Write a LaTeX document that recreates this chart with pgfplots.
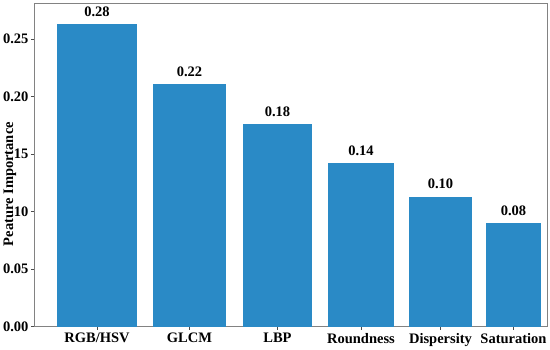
\documentclass[border=0pt]{standalone}
\usepackage{pgfplots}
\pgfplotsset{compat=1.18}
\usepackage{fontspec}
\setmainfont{Liberation Serif}
\definecolor{barblue}{RGB}{42,138,198}
\definecolor{framegray}{RGB}{130,130,130}
\begin{document}
\begin{tikzpicture}[x=1pt,y=1pt]
\useasboundingbox (-34,-22.5) rectangle (516,326.5);
\begin{axis}[
  at={(0,0)}, anchor=south west,
  scale only axis,
  width=513pt, height=323.5pt,
  xmin=34, xmax=547,
  ymin=0, ymax=0.2813,
  axis line style={framegray, line width=0.8pt},
  tick style={black!70, line width=0.6pt},
  tick align=outside,
  major tick length=3pt,
  xtick={97,189.5,277.5,361,440.5,513.5},
  xticklabels={RGB/HSV,GLCM,LBP,Roundness,Dispersity,Saturation},
  ytick={0,0.05,0.10,0.15,0.20,0.25},
  yticklabels={0.00,0.05,10,15,0.20,0.25},
  xtick pos=bottom, ytick pos=left,
  ticklabel style={font=\fontsize{14.5}{17}\selectfont\bfseries},
  yticklabel style={xshift=1pt},
  xticklabel style={yshift=0pt},
  ylabel={Peature Importance},
  every axis y label/.style={at={(axis description cs:0,0.44)}, xshift=-24pt, rotate=90, anchor=center, font=\fontsize{14.5}{17}\selectfont\bfseries},
  ybar, bar shift=0pt,
  every node near coord/.append style={font=\fontsize{14.5}{16}\selectfont\bfseries, black, yshift=4pt},
  nodes near coords,
  point meta=explicit symbolic,
]
\addplot[fill=barblue, draw=none, bar width=80, bar shift=0pt] coordinates {(97,0.263) [0.28]};
\addplot[fill=barblue, draw=none, bar width=73, bar shift=0pt] coordinates {(189.5,0.211) [0.22]};
\addplot[fill=barblue, draw=none, bar width=69, bar shift=0pt] coordinates {(277.5,0.176) [0.18]};
\addplot[fill=barblue, draw=none, bar width=66, bar shift=0pt] coordinates {(361,0.142) [0.14]};
\addplot[fill=barblue, draw=none, bar width=63, bar shift=0pt] coordinates {(440.5,0.113) [0.10]};
\addplot[fill=barblue, draw=none, bar width=55, bar shift=0pt] coordinates {(513.5,0.090) [0.08]};
\end{axis}
\end{tikzpicture}
\end{document}
